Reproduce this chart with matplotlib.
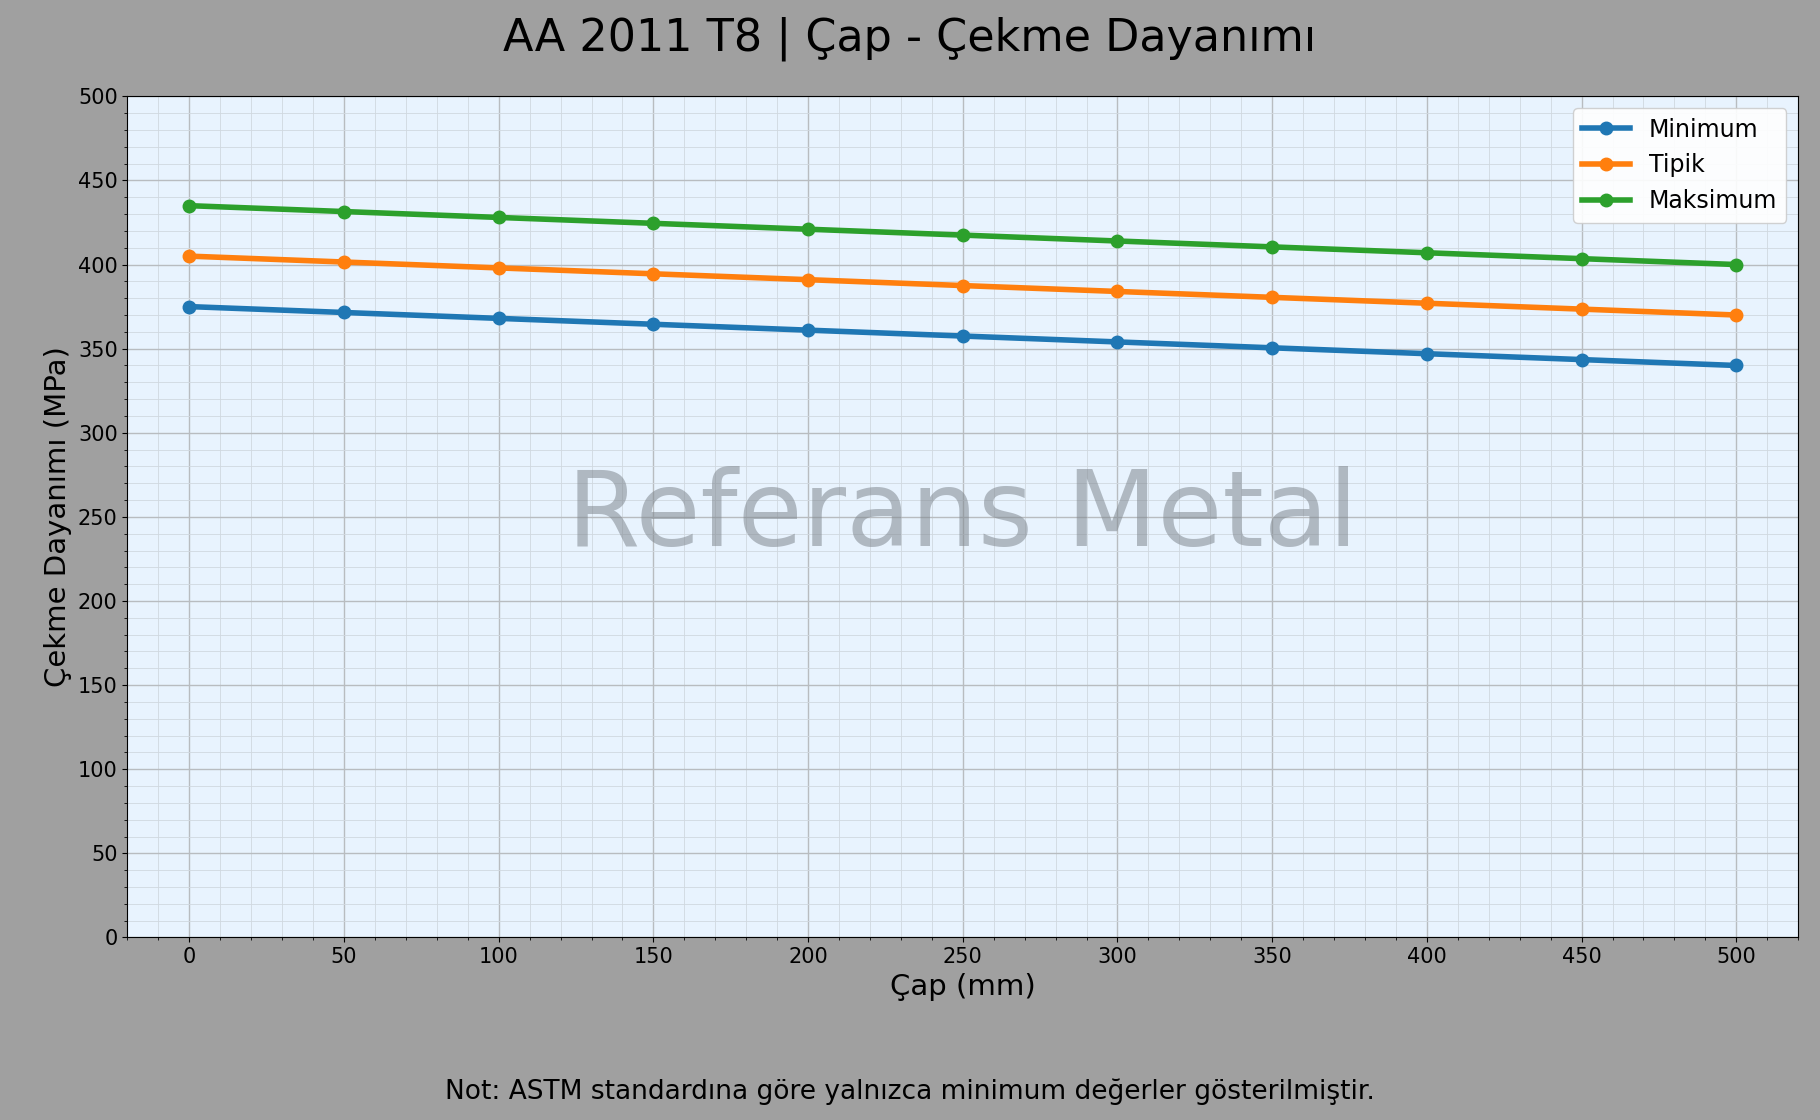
import matplotlib
matplotlib.use("Agg")
import matplotlib.pyplot as plt
from matplotlib.ticker import MultipleLocator

cap = [0, 50, 100, 150, 200, 250, 300, 350, 400, 450, 500]
minimum = [375, 371.5, 368, 364.5, 361, 357.5, 354, 350.5, 347, 343.5, 340]
tipik = [405, 401.5, 398, 394.5, 391, 387.5, 384, 380.5, 377, 373.5, 370]
maksimum = [435, 431.5, 428, 424.5, 421, 417.5, 414, 410.5, 407, 403.5, 400]

fig = plt.figure(figsize=(18.2, 11.2), dpi=100, facecolor="#a0a0a0")
ax = fig.add_axes([0.07, 0.163, 0.918, 0.751])
ax.set_facecolor("#e8f3fe")
for y, lab, c in [(minimum, "Minimum", "#1f77b4"), (tipik, "Tipik", "#ff7f0e"), (maksimum, "Maksimum", "#2ca02c")]:
    ax.plot(cap, y, "-o", color=c, lw=4, ms=9, label=lab)
ax.set_xlim(-20, 520)
ax.set_ylim(0, 500)
ax.xaxis.set_major_locator(MultipleLocator(50))
ax.yaxis.set_major_locator(MultipleLocator(50))
ax.xaxis.set_minor_locator(MultipleLocator(10))
ax.yaxis.set_minor_locator(MultipleLocator(10))
ax.grid(which="major", color="#b8bcc0", lw=1)
ax.grid(which="minor", color="#d0d8e0", lw=0.6)
ax.tick_params(labelsize=15)
ax.set_xlabel("Çap (mm)", fontsize=21)
ax.set_ylabel("Çekme Dayanımı (MPa)", fontsize=21)
ax.text(0.5, 0.5, "Referans Metal", transform=ax.transAxes, ha="center", va="center",
        fontsize=76, color="#808890", alpha=0.55)
ax.legend(fontsize=17, loc="upper right", framealpha=0.9)
fig.suptitle("AA 2011 T8 | Çap - Çekme Dayanımı", fontsize=32, y=0.985)
fig.text(0.5, 0.025, "Not: ASTM standardına göre yalnızca minimum değerler gösterilmiştir.",
         ha="center", va="center", fontsize=19)
fig.savefig("out.png", dpi=100, facecolor=fig.get_facecolor())
